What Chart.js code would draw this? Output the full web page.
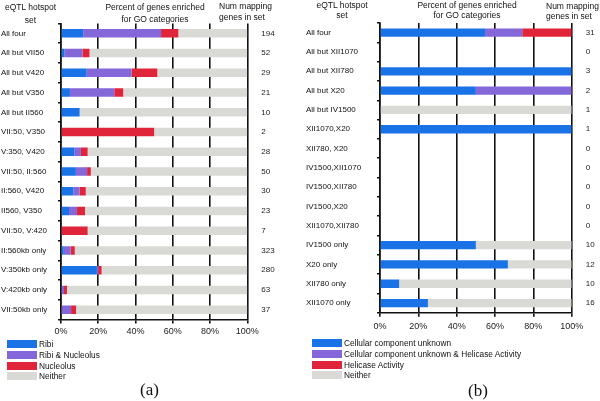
<!DOCTYPE html>
<html><head><meta charset="utf-8">
<script src="https://cdn.jsdelivr.net/npm/chart.js@4.4.1/dist/chart.umd.min.js"></script>
<style>
html,body{margin:0;padding:0;background:#fff;}
body{width:600px;height:401px;position:relative;overflow:hidden;font-family:"Liberation Sans",Arial,sans-serif;color:#111;}
canvas{position:absolute;top:0;}
.t{position:absolute;font-size:8.5px;line-height:11.5px;white-space:nowrap;}
.lg{position:absolute;font-size:8.3px;white-space:nowrap;}
.row{position:relative;height:10.8px;line-height:8px;}
.sw{position:absolute;left:0;top:0;width:30px;height:8px;}
.lt{position:absolute;top:0;}
.cap{position:absolute;font-family:"Liberation Serif","Times New Roman",serif;font-size:17px;line-height:17px;}
</style></head>
<body>
<canvas id="ca" width="300" height="345" style="left:0"></canvas>
<canvas id="cb" width="300" height="345" style="left:300px"></canvas>

<div class="t" style="left:0;top:1px;width:61px;text-align:center;line-height:12.5px">eQTL hotspot<br>set</div>
<div class="t" style="left:95px;top:2px;width:120px;text-align:center">Percent of genes enriched<br>for GO categories</div>
<div class="t" style="left:219px;top:1px;line-height:10.5px">Num mapping<br>genes in set</div>
<div class="t" style="left:312px;top:0px;width:60px;text-align:center;line-height:10px">eQTL hotspot<br>set</div>
<div class="t" style="left:407px;top:0px;width:120px;text-align:center;line-height:10px">Percent of genes enriched<br>for GO categories</div>
<div class="t" style="left:546px;top:1px;line-height:10px">Num mapping<br>genes in set</div>

<div id="lga" class="lg" style="left:7px;top:340px"></div>
<div id="lgb" class="lg" style="left:312px;top:339px"></div>
<div class="cap" style="left:140px;top:381px">(a)</div>
<div class="cap" style="left:468px;top:382px">(b)</div>

<script>
// ---------- Panel (a) data ----------
const categoriesA = ['All four','All but VII50','All but V420','All but V350','All but II560','VII:50, V350','V:350, V420','VII:50, II:560','II:560, V420','II560, V350','VII:50, V:420','II:560kb only','V:350kb only','V:420kb only','VII:50kb only'];
const numsA      = [194, 52, 29, 21, 10, 2, 28, 50, 30, 23, 7, 323, 280, 63, 37];
const ribiA      = [11.9, 1.9, 13.8, 4.8, 10, 0, 7.1, 8, 6.7, 4.3, 0, 1.5, 19.3, 0, 0];
const ribiNucA   = [41.8, 9.6, 24.1, 23.8, 0, 0, 3.6, 6, 3.3, 4.3, 0, 3.7, 0.7, 1.6, 5.4];
const nucleolusA = [9.3, 3.8, 13.8, 4.8, 0, 50, 3.6, 2, 3.3, 4.3, 14.3, 2.2, 1.8, 1.6, 2.7];
const neitherA   = [37.0, 84.7, 48.3, 66.6, 90, 50, 85.7, 84, 86.7, 87.1, 85.7, 92.6, 78.2, 96.8, 91.9];
const legendA    = ['Ribi', 'Ribi & Nucleolus', 'Nucleolus', 'Neither'];

// ---------- Panel (b) data ----------
const categoriesB = ['All four','All but XII1070','All but XII780','All but X20','All but IV1500','XII1070,X20','XII780, X20','IV1500,XII1070','IV1500,XII780','IV1500,X20','XII1070,XII780','IV1500 only','X20 only','XII780 only','XII1070 only'];
const numsB      = [31, 0, 3, 2, 1, 1, 0, 0, 0, 0, 0, 10, 12, 10, 16];
const ccuB       = [54.8, 0, 100, 50, 0, 100, 0, 0, 0, 0, 0, 50, 66.7, 10, 25];
const ccuHelB    = [19.4, 0, 0, 50, 0, 0, 0, 0, 0, 0, 0, 0, 0, 0, 0];
const helB       = [25.8, 0, 0, 0, 0, 0, 0, 0, 0, 0, 0, 0, 0, 0, 0];
const neitherB   = [0, 0, 0, 0, 100, 0, 0, 0, 0, 0, 0, 50, 33.3, 90, 75];
const legendB    = ['Cellular component unknown', 'Cellular component unknown & Helicase Activity', 'Helicase Activity', 'Neither'];

const xTicks = [0, 20, 40, 60, 80, 100];
const colors = ['#1a73e6', '#8467d8', '#e0243a', '#d9d9d5'];

function makeChart(id, cats, nums, seriesData, labels, g) {
  const datasets = seriesData.map((d, i) => ({
    label: labels[i], data: d, backgroundColor: colors[i],
    borderWidth: 0, barPercentage: 0.43, categoryPercentage: 1, yAxisID: 'y'
  }));
  const dark = '#111';
  return new Chart(document.getElementById(id), {
    type: 'bar',
    data: { labels: cats, datasets },
    options: {
      indexAxis: 'y', responsive: false, animation: false,
      layout: { padding: { left: g.padLeft, top: g.padTop, right: 0, bottom: 0 } },
      plugins: { legend: { display: false }, tooltip: { enabled: false } },
      scales: {
        x: {
          type: 'linear', stacked: true, min: 0, max: 100,
          afterBuildTicks: s => { s.ticks = xTicks.map(v => ({ value: v })); },
          afterFit: s => { s.height = g.xHeight; },
          ticks: { callback: v => v + '%', font: { family: 'Liberation Sans', size: 9 }, color: '#222', padding: g.xPad, maxRotation: 0 },
          grid: { color: dark, lineWidth: 1.6, tickLength: 4 },
          border: { color: dark, width: 1.6 }
        },
        y: {
          type: 'category', stacked: true, offset: true,
          afterFit: s => { s.width = g.yWidth; },
          ticks: { crossAlign: 'far', font: { family: 'Liberation Sans', size: 8 }, color: '#111', autoSkip: false },
          grid: { drawOnChartArea: false, offset: true, tickLength: 3, color: dark, lineWidth: 1.5 },
          border: { color: dark, width: 1.6 }
        },
        y2: {
          type: 'category', position: 'right', offset: true, labels: nums.map(String),
          afterFit: s => { s.width = g.y2Width; },
          ticks: { crossAlign: 'near', padding: 14, font: { family: 'Liberation Sans', size: 8 }, color: '#222', autoSkip: false },
          grid: { display: false, drawTicks: false },
          border: { display: false }
        }
      }
    }
  });
}

makeChart('ca', categoriesA, numsA, [ribiA, ribiNucA, nucleolusA, neitherA], legendA,
  { padLeft: 1, padTop: 23.5, yWidth: 60, y2Width: 52.7, xHeight: 25.5, xPad: 3 });
makeChart('cb', categoriesB, numsB, [ccuB, ccuHelB, helB, neitherB], legendB,
  { padLeft: 6, padTop: 23, yWidth: 74, y2Width: 28.3, xHeight: 32.3, xPad: 4 });

function buildLegend(id, labels) {
  const el = document.getElementById(id);
  labels.forEach((l, i) => {
    const r = document.createElement('div'); r.className = 'row';
    const s = document.createElement('span'); s.className = 'sw'; s.style.background = colors[i];
    const t = document.createElement('span'); t.className = 'lt'; t.style.left = '32px'; t.textContent = l;
    r.appendChild(s); r.appendChild(t); el.appendChild(r);
  });
}
buildLegend('lga', legendA);
buildLegend('lgb', legendB);
</script>
</body></html>
